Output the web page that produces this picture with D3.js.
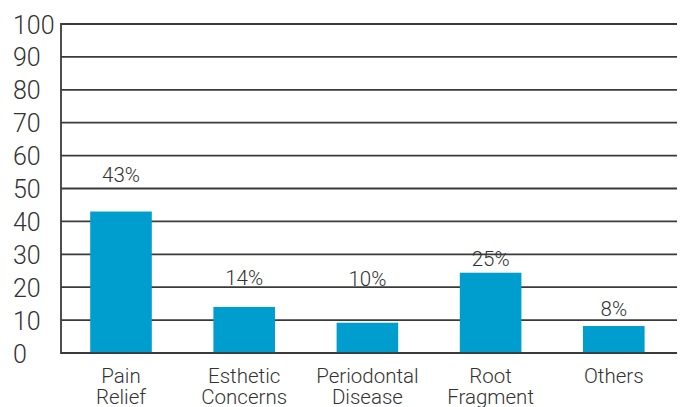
<!DOCTYPE html>
<html>
<head>
<meta charset="utf-8">
<script src="https://cdn.jsdelivr.net/npm/d3@7"></script>
<style>
  html, body { margin: 0; padding: 0; background: #fff; }
  svg { display: block; }
  text { font-family: Roboto, "DejaVu Sans", sans-serif; fill: #333; }
</style>
</head>
<body>
<svg id="chart" width="681" height="407"></svg>
<script>
const categories = [["Pain", "Relief"], ["Esthetic", "Concerns"], ["Periodontal", "Disease"], ["Root", "Fragment"], ["Others"]];
const values = [43, 14, 9.2, 24.4, 8.2];
const valueLabels = ["43%", "14%", "10%", "25%", "8%"];
const labelPositions = [52, 20.6, 20.4, 26.4, 11.2];
const yTicks = [0, 10, 20, 30, 40, 50, 60, 70, 80, 90, 100];

const svg = d3.select("#chart");
const keys = categories.map(c => c.join(" "));

const x = d3.scaleBand().domain(keys).range([59.4, 675.4]).paddingInner(0.5).paddingOuter(0.25);
const y = d3.scaleLinear().domain([0, 100]).range([353, 24]);
const gridLeft = 61, gridRight = 677;

// gridlines
svg.append("g").selectAll("line").data(yTicks).join("line")
  .attr("x1", gridLeft).attr("x2", gridRight)
  .attr("y1", d => y(d)).attr("y2", d => y(d))
  .attr("stroke", "#3a3a3a").attr("stroke-width", 1.8);

// left axis line
svg.append("line").attr("x1", gridLeft).attr("x2", gridLeft)
  .attr("y1", y(100) - 0.9).attr("y2", y(0) + 0.9)
  .attr("stroke", "#3a3a3a").attr("stroke-width", 1.8);

// y tick labels (left aligned)
const yAxis = d3.axisLeft(y).tickValues(yTicks).tickSize(0).tickPadding(0);
const gy = svg.append("g").attr("transform", "translate(13,0)").call(yAxis);
gy.select(".domain").remove();
gy.selectAll("text").attr("font-size", 25).attr("font-weight", 300).attr("fill", "#333")
  .attr("text-anchor", "start")
  .attr("font-family", "Roboto, sans-serif").attr("dy", "0.36em");

// bars
svg.append("g").selectAll("rect").data(values).join("rect")
  .attr("x", (d, i) => x(keys[i]))
  .attr("width", x.bandwidth())
  .attr("y", d => y(d))
  .attr("height", d => y(0) - y(d) - 0.9)
  .attr("fill", "#009ECE");

// value labels
svg.append("g").selectAll("text").data(valueLabels).join("text")
  .attr("x", (d, i) => x(keys[i]) + x.bandwidth() / 2)
  .attr("y", (d, i) => y(labelPositions[i]))
  .attr("text-anchor", "middle")
  .attr("font-size", 20.5)
  .attr("font-weight", 300)
  .text(d => d);

// category labels
const cat = svg.append("g").selectAll("text").data(categories).join("text")
  .attr("x", (d, i) => x(keys[i]) + x.bandwidth() / 2)
  .attr("y", 383)
  .attr("text-anchor", "middle")
  .attr("font-size", 20.5)
  .attr("font-weight", 300);
cat.each(function(d) {
  const t = d3.select(this);
  d.forEach((line, j) => {
    t.append("tspan").attr("x", t.attr("x")).attr("dy", j === 0 ? 0 : 21).text(line);
  });
});
</script>
</body>
</html>
